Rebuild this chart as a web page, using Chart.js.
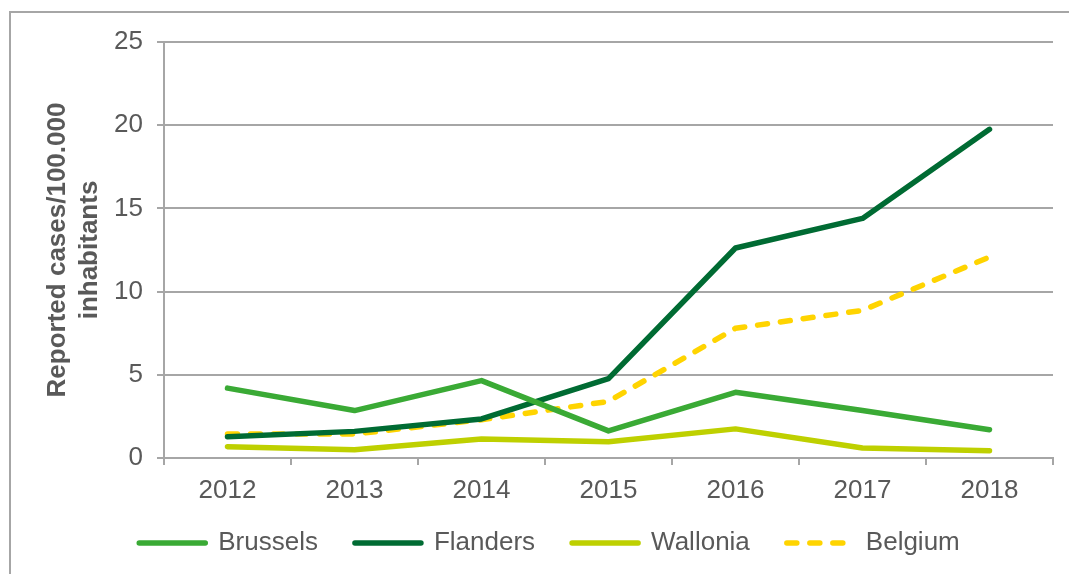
<!DOCTYPE html>
<html>
<head>
<meta charset="utf-8">
<script src="https://cdn.jsdelivr.net/npm/chart.js@4"></script>
<style>
  html, body { margin: 0; padding: 0; background: #fff; overflow: hidden; }
  #wrap { position: relative; width: 1069px; height: 574px; }
  #frame { position: absolute; left: 9px; top: 11px; width: 2000px; height: 2000px;
           border-top: 2px solid #a6a6a6; border-left: 2px solid #a6a6a6; }
  #chart { position: absolute; left: 0; top: 0; }
</style>
</head>
<body>
<div id="wrap">
  <div id="frame"></div>
  <canvas id="chart" width="1069" height="574"></canvas>
</div>
<script>
// data
var years = ['2012', '2013', '2014', '2015', '2016', '2017', '2018'];
var brussels = [4.2, 2.85, 4.65, 1.63, 3.95, 2.85, 1.7];
var flanders = [1.28, 1.6, 2.35, 4.77, 12.62, 14.4, 19.75];
var wallonia = [0.68, 0.5, 1.14, 0.98, 1.75, 0.6, 0.44];
var belgium = [1.44, 1.44, 2.3, 3.4, 7.8, 8.87, 12.08];

// kleuren
var green = '#3aaa35';
var darkGreen = '#006b33';
var lime = '#bed000';
var yellow = '#ffd400';
var grid = '#a6a6a6';
var text = '#595959';

Chart.defaults.font.family = '"Liberation Sans", Arial, sans-serif';
Chart.defaults.color = text;

function series(label, data, color, dash) {
	return {
		label: label,
		data: data,
		borderColor: color,
		backgroundColor: color,
		borderWidth: 5.5,
		borderDash: dash || [],
		borderCapStyle: 'round',
		borderJoinStyle: 'round',
		pointRadius: 0,
		tension: 0,
		fill: false
	};
}

// legend lines take the dash and cap of the dataset
function legendLabels(chart) {
	var items = Chart.defaults.plugins.legend.labels.generateLabels(chart);
	items.forEach(function(item) {
		var ds = chart.data.datasets[item.datasetIndex];
		item.strokeStyle = ds.borderColor;
		item.lineWidth = ds.borderWidth;
		item.lineDash = ds.borderDash;
		item.lineCap = 'round';
	});
	return items;
}

new Chart(document.getElementById('chart'), {
	type: 'line',
	data: {
		labels: years,
		datasets: [
			series('Brussels', brussels, green),
			series('Flanders', flanders, darkGreen),
			series('Wallonia', wallonia, lime),
			series('Belgium', belgium, yellow, [10, 13])
		]
	},
	options: {
		responsive: false,
		animation: false,
		layout: { padding: { left: 46, right: 16, top: 42, bottom: 8 } },
		plugins: {
			tooltip: { enabled: false },
			legend: {
				position: 'bottom',
				title: { display: true, text: '', font: { size: 0, lineHeight: 0 }, padding: { top: -13, bottom: 0 } },
				labels: {
					usePointStyle: true,
					pointStyle: 'line',
					pointStyleWidth: 66,
					padding: 37,
					color: text,
					font: { size: 26 },
					generateLabels: legendLabels
				}
			}
		},
		scales: {
			x: {
				offset: true,
				afterFit: function(scale) { scale.height = 48; },
				grid: { offset: true, drawOnChartArea: false, tickLength: 7, color: grid, lineWidth: 2 },
				border: { display: true, color: grid, width: 2 },
				ticks: { padding: 10, color: text, font: { size: 26 } }
			},
			y: {
				min: 0,
				max: 25,
				afterFit: function(scale) { scale.width = 118; },
				grid: { tickLength: 7, color: grid, lineWidth: 2 },
				border: { display: true, color: grid, width: 2 },
				ticks: { stepSize: 5, padding: 14, color: text, font: { size: 26 } },
				title: {
					display: true,
					text: ['Reported cases/100.000', 'inhabitants'],
					color: text,
					padding: { top: -4, bottom: 0 },
					font: { size: 26, weight: 'bold', lineHeight: 1.23 }
				}
			}
		}
	}
});
</script>
</body>
</html>
